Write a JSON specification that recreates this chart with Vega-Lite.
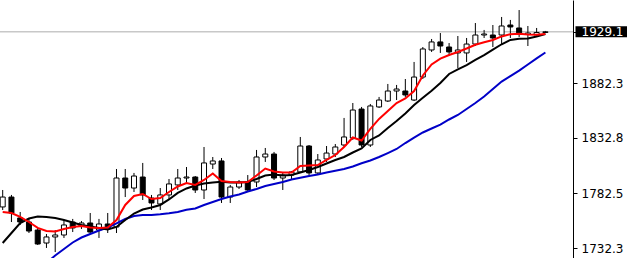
{
  "$schema": "https://vega.github.io/schema/vega-lite/v6.json",
  "width": 573,
  "height": 258,
  "autosize": {"type": "none"},
  "padding": {"left": 0, "top": 0, "right": 54, "bottom": 0},
  "background": "white",
  "config": {"view": {"stroke": null}},
  "datasets": {
    "price": [{"p": 1929.12}],
    "ohlc": [
      {"i":0,"o":1769.9,"h":1785.3,"l":1767.1,"c":1778.9,"r":1765.3,"k":1737.1,"b":null},
      {"i":1,"o":1778.9,"h":1780.8,"l":1756.2,"c":1764.4,"r":1764.4,"k":1746.2,"b":null},
      {"i":2,"o":1759.9,"h":1765.3,"l":1753.5,"c":1756.2,"r":1760.8,"k":1755.3,"b":null},
      {"i":3,"o":1756.2,"h":1759.9,"l":1746.2,"c":1748.0,"r":1756.2,"k":1759.4,"b":null},
      {"i":4,"o":1748.9,"h":1750.8,"l":1735.3,"c":1736.2,"r":1750.8,"k":1761.2,"b":null},
      {"i":5,"o":1737.1,"h":1745.3,"l":1732.6,"c":1742.6,"r":1748.0,"k":1760.8,"b":1718.9},
      {"i":6,"o":1742.6,"h":1748.9,"l":1728.9,"c":1744.4,"r":1747.6,"k":1759.9,"b":1725.8},
      {"i":7,"o":1744.4,"h":1758.0,"l":1741.7,"c":1753.5,"r":1749.9,"k":1758.0,"b":1731.7},
      {"i":8,"o":1756.2,"h":1759.0,"l":1747.1,"c":1750.8,"r":1751.7,"k":1755.8,"b":1737.6},
      {"i":9,"o":1752.6,"h":1757.1,"l":1749.9,"c":1755.3,"r":1752.6,"k":1753.5,"b":1742.1},
      {"i":10,"o":1755.3,"h":1764.4,"l":1745.3,"c":1747.1,"r":1751.2,"k":1752.1,"b":1745.3},
      {"i":11,"o":1748.9,"h":1759.0,"l":1741.7,"c":1754.4,"r":1750.8,"k":1750.8,"b":1748.5},
      {"i":12,"o":1754.4,"h":1764.4,"l":1746.2,"c":1750.8,"r":1751.2,"k":1749.4,"b":1751.2},
      {"i":13,"o":1751.7,"h":1804.4,"l":1746.2,"c":1796.2,"r":1758.0,"k":1751.7,"b":1754.9},
      {"i":14,"o":1796.2,"h":1804.4,"l":1778.9,"c":1787.1,"r":1771.7,"k":1758.0,"b":1758.9},
      {"i":15,"o":1787.1,"h":1800.8,"l":1783.5,"c":1798.0,"r":1779.9,"k":1763.9,"b":1761.7},
      {"i":16,"o":1797.1,"h":1809.9,"l":1776.2,"c":1780.8,"r":1781.7,"k":1767.6,"b":1762.6},
      {"i":17,"o":1778.0,"h":1780.8,"l":1767.1,"c":1773.5,"r":1777.1,"k":1769.4,"b":1762.6},
      {"i":18,"o":1772.6,"h":1787.1,"l":1767.1,"c":1780.8,"r":1778.0,"k":1771.7,"b":1763.2},
      {"i":19,"o":1780.8,"h":1795.3,"l":1776.2,"c":1790.8,"r":1783.5,"k":1776.7,"b":1764.1},
      {"i":20,"o":1789.9,"h":1804.4,"l":1785.3,"c":1796.2,"r":1788.5,"k":1782.6,"b":1765.3},
      {"i":21,"o":1796.2,"h":1806.2,"l":1791.7,"c":1797.1,"r":1791.7,"k":1786.7,"b":1767.3},
      {"i":22,"o":1797.1,"h":1798.0,"l":1782.6,"c":1785.3,"r":1789.9,"k":1789.4,"b":1768.5},
      {"i":23,"o":1785.3,"h":1824.4,"l":1777.1,"c":1809.9,"r":1794.4,"k":1791.2,"b":1771.7},
      {"i":24,"o":1808.9,"h":1815.3,"l":1804.4,"c":1811.7,"r":1800.3,"k":1792.1,"b":1774.4},
      {"i":25,"o":1811.7,"h":1814.4,"l":1773.5,"c":1778.9,"r":1793.5,"k":1792.8,"b":1777.1},
      {"i":26,"o":1778.9,"h":1789.9,"l":1773.5,"c":1788.0,"r":1792.6,"k":1792.1,"b":1779.4},
      {"i":27,"o":1788.0,"h":1794.4,"l":1786.2,"c":1792.6,"r":1792.1,"k":1792.1,"b":1781.2},
      {"i":28,"o":1792.6,"h":1798.9,"l":1784.4,"c":1785.3,"r":1792.6,"k":1792.6,"b":1783.9},
      {"i":29,"o":1792.6,"h":1821.7,"l":1788.0,"c":1815.3,"r":1798.5,"k":1795.3,"b":1786.2},
      {"i":30,"o":1815.3,"h":1823.5,"l":1810.8,"c":1818.0,"r":1804.8,"k":1798.5,"b":1788.9},
      {"i":31,"o":1818.0,"h":1819.9,"l":1794.4,"c":1796.2,"r":1802.1,"k":1799.4,"b":1790.8},
      {"i":32,"o":1796.2,"h":1800.8,"l":1785.3,"c":1798.9,"r":1801.2,"k":1798.5,"b":1792.6},
      {"i":33,"o":1798.9,"h":1802.6,"l":1794.4,"c":1801.7,"r":1801.2,"k":1798.9,"b":1794.8},
      {"i":34,"o":1801.7,"h":1833.5,"l":1800.8,"c":1825.3,"r":1807.1,"k":1801.2,"b":1796.4},
      {"i":35,"o":1825.3,"h":1826.2,"l":1798.9,"c":1800.8,"r":1807.6,"k":1803.5,"b":1798.0},
      {"i":36,"o":1800.8,"h":1818.0,"l":1798.9,"c":1812.6,"r":1808.0,"k":1806.2,"b":1799.4},
      {"i":37,"o":1813.5,"h":1825.3,"l":1810.8,"c":1818.9,"r":1812.6,"k":1809.4,"b":1801.2},
      {"i":38,"o":1818.0,"h":1827.1,"l":1815.3,"c":1824.4,"r":1817.1,"k":1812.6,"b":1802.8},
      {"i":39,"o":1826.2,"h":1850.8,"l":1824.4,"c":1833.5,"r":1824.4,"k":1815.3,"b":1804.4},
      {"i":40,"o":1832.6,"h":1864.4,"l":1830.8,"c":1858.0,"r":1833.0,"k":1819.4,"b":1806.7},
      {"i":41,"o":1858.9,"h":1860.8,"l":1824.4,"c":1826.2,"r":1830.3,"k":1823.0,"b":1809.6},
      {"i":42,"o":1826.2,"h":1863.5,"l":1824.4,"c":1861.7,"r":1840.8,"k":1830.8,"b":1812.1},
      {"i":43,"o":1860.8,"h":1869.9,"l":1859.9,"c":1867.1,"r":1849.9,"k":1834.9,"b":1815.3},
      {"i":44,"o":1866.2,"h":1881.7,"l":1865.3,"c":1875.3,"r":1857.1,"k":1841.7,"b":1818.9},
      {"i":45,"o":1875.3,"h":1880.8,"l":1867.1,"c":1877.1,"r":1864.4,"k":1848.0,"b":1822.6},
      {"i":46,"o":1875.3,"h":1886.2,"l":1869.9,"c":1871.7,"r":1868.5,"k":1854.9,"b":1828.0},
      {"i":47,"o":1867.1,"h":1901.7,"l":1866.2,"c":1888.0,"r":1875.3,"k":1862.6,"b":1833.0},
      {"i":48,"o":1888.0,"h":1915.3,"l":1886.2,"c":1913.5,"r":1889.4,"k":1869.2,"b":1837.6},
      {"i":49,"o":1912.6,"h":1922.6,"l":1910.8,"c":1919.9,"r":1899.4,"k":1875.6,"b":1841.2},
      {"i":50,"o":1919.9,"h":1928.0,"l":1909.9,"c":1916.2,"r":1904.8,"k":1882.6,"b":1844.8},
      {"i":51,"o":1915.3,"h":1918.9,"l":1907.1,"c":1910.8,"r":1908.0,"k":1890.8,"b":1849.4},
      {"i":52,"o":1909.9,"h":1925.3,"l":1896.2,"c":1912.6,"r":1910.8,"k":1894.9,"b":1853.5},
      {"i":53,"o":1909.9,"h":1923.5,"l":1901.7,"c":1918.0,"r":1913.9,"k":1898.9,"b":1858.9},
      {"i":54,"o":1918.0,"h":1937.1,"l":1916.2,"c":1926.2,"r":1917.3,"k":1903.5,"b":1864.4},
      {"i":55,"o":1926.2,"h":1930.8,"l":1923.5,"c":1927.1,"r":1919.6,"k":1908.0,"b":1870.3},
      {"i":56,"o":1926.2,"h":1935.3,"l":1915.3,"c":1923.5,"r":1921.7,"k":1912.9,"b":1877.1},
      {"i":57,"o":1926.2,"h":1942.6,"l":1917.1,"c":1934.4,"r":1924.9,"k":1917.8,"b":1883.9},
      {"i":58,"o":1935.3,"h":1939.9,"l":1923.5,"c":1933.5,"r":1926.9,"k":1921.7,"b":1888.9},
      {"i":59,"o":1932.6,"h":1948.9,"l":1924.4,"c":1927.1,"r":1927.3,"k":1922.9,"b":1893.9},
      {"i":60,"o":1926.7,"h":1934.4,"l":1916.2,"c":1928.0,"r":1926.7,"k":1923.1,"b":1899.4},
      {"i":61,"o":1926.2,"h":1932.6,"l":1924.4,"c":1928.5,"r":1926.4,"k":1924.9,"b":1905.0},
      {"i":62,"o":1928.5,"h":1929.9,"l":1928.0,"c":1929.1,"r":1927.1,"k":1927.1,"b":1910.3}
    ]
  },
  "layer": [
    {
      "data": {"name": "price"},
      "mark": {"type": "bar", "orient": "horizontal", "size": 11, "color": "black", "clip": false},
      "encoding": {
        "x": {"datum": 65.44, "type": "quantitative", "scale": {"domain": [-0.308, 65.155], "nice": false, "zero": false, "padding": 0}, "axis": null},
        "x2": {"datum": 72},
        "y": {"field": "p", "type": "quantitative", "scale": {"domain": [1723.48, 1958.03], "nice": false, "zero": false, "padding": 0},
          "axis": {"orient": "right", "values": [1732.3, 1782.5, 1832.8, 1882.3, 1929.1], "format": ".1f", "title": null, "grid": false, "tickSize": 4, "tickColor": "black", "domainColor": "black", "labelFont": "DejaVu Sans", "labelFontSize": 12, "labelPadding": 4, "labelOverlap": false, "labelFlush": false, "zindex": 1,
            "labelColor": {"condition": {"test": "datum.value == 1929.1", "value": "white"}, "value": "black"}}}
      }
    },
    {
      "data": {"name": "price"},
      "mark": {"type": "rule", "color": "#c8c8c8", "strokeWidth": 1.5},
      "encoding": {
        "y": {"field": "p", "type": "quantitative", "scale": {"domain": [1723.48, 1958.03], "nice": false, "zero": false, "padding": 0},
          "axis": {"orient": "right", "values": [1732.3, 1782.5, 1832.8, 1882.3, 1929.1], "format": ".1f", "title": null, "grid": false, "tickSize": 4, "tickColor": "black", "domainColor": "black", "labelFont": "DejaVu Sans", "labelFontSize": 12, "labelPadding": 4, "labelOverlap": false, "labelFlush": false, "zindex": 1,
            "labelColor": {"condition": {"test": "datum.value == 1929.1", "value": "white"}, "value": "black"}}}
      }
    },
    {
      "data": {"name": "ohlc"},
      "mark": {"type": "rule", "color": "black", "strokeWidth": 1, "clip": true},
      "encoding": {
        "x": {"field": "i", "type": "quantitative", "scale": {"domain": [-0.308, 65.155], "nice": false, "zero": false, "padding": 0}, "axis": null},
        "y": {"field": "h", "type": "quantitative", "scale": {"domain": [1723.48, 1958.03], "nice": false, "zero": false, "padding": 0},
          "axis": {"orient": "right", "values": [1732.3, 1782.5, 1832.8, 1882.3, 1929.1], "format": ".1f", "title": null, "grid": false, "tickSize": 4, "tickColor": "black", "domainColor": "black", "labelFont": "DejaVu Sans", "labelFontSize": 12, "labelPadding": 4, "labelOverlap": false, "labelFlush": false, "zindex": 1,
            "labelColor": {"condition": {"test": "datum.value == 1929.1", "value": "white"}, "value": "black"}}},
        "y2": {"field": "l"}
      }
    },
    {
      "data": {"name": "ohlc"},
      "mark": {"type": "bar", "size": 5, "stroke": "black", "strokeWidth": 1, "clip": true},
      "encoding": {
        "x": {"field": "i", "type": "quantitative", "scale": {"domain": [-0.308, 65.155], "nice": false, "zero": false, "padding": 0}, "axis": null},
        "y": {"field": "o", "type": "quantitative", "scale": {"domain": [1723.48, 1958.03], "nice": false, "zero": false, "padding": 0},
          "axis": {"orient": "right", "values": [1732.3, 1782.5, 1832.8, 1882.3, 1929.1], "format": ".1f", "title": null, "grid": false, "tickSize": 4, "tickColor": "black", "domainColor": "black", "labelFont": "DejaVu Sans", "labelFontSize": 12, "labelPadding": 4, "labelOverlap": false, "labelFlush": false, "zindex": 1,
            "labelColor": {"condition": {"test": "datum.value == 1929.1", "value": "white"}, "value": "black"}}},
        "y2": {"field": "c"},
        "fill": {"condition": {"test": "datum.c < datum.o", "value": "black"}, "value": "white"}
      }
    },
    {
      "data": {"name": "ohlc"},
      "mark": {"type": "line", "color": "#0000c8", "strokeWidth": 2, "clip": true},
      "encoding": {
        "x": {"field": "i", "type": "quantitative", "scale": {"domain": [-0.308, 65.155], "nice": false, "zero": false, "padding": 0}, "axis": null},
        "y": {"field": "b", "type": "quantitative", "scale": {"domain": [1723.48, 1958.03], "nice": false, "zero": false, "padding": 0},
          "axis": {"orient": "right", "values": [1732.3, 1782.5, 1832.8, 1882.3, 1929.1], "format": ".1f", "title": null, "grid": false, "tickSize": 4, "tickColor": "black", "domainColor": "black", "labelFont": "DejaVu Sans", "labelFontSize": 12, "labelPadding": 4, "labelOverlap": false, "labelFlush": false, "zindex": 1,
            "labelColor": {"condition": {"test": "datum.value == 1929.1", "value": "white"}, "value": "black"}}}
      }
    },
    {
      "data": {"name": "ohlc"},
      "mark": {"type": "line", "color": "black", "strokeWidth": 2, "clip": true},
      "encoding": {
        "x": {"field": "i", "type": "quantitative", "scale": {"domain": [-0.308, 65.155], "nice": false, "zero": false, "padding": 0}, "axis": null},
        "y": {"field": "k", "type": "quantitative", "scale": {"domain": [1723.48, 1958.03], "nice": false, "zero": false, "padding": 0},
          "axis": {"orient": "right", "values": [1732.3, 1782.5, 1832.8, 1882.3, 1929.1], "format": ".1f", "title": null, "grid": false, "tickSize": 4, "tickColor": "black", "domainColor": "black", "labelFont": "DejaVu Sans", "labelFontSize": 12, "labelPadding": 4, "labelOverlap": false, "labelFlush": false, "zindex": 1,
            "labelColor": {"condition": {"test": "datum.value == 1929.1", "value": "white"}, "value": "black"}}}
      }
    },
    {
      "data": {"name": "ohlc"},
      "mark": {"type": "line", "color": "#ff0000", "strokeWidth": 2, "clip": true},
      "encoding": {
        "x": {"field": "i", "type": "quantitative", "scale": {"domain": [-0.308, 65.155], "nice": false, "zero": false, "padding": 0}, "axis": null},
        "y": {"field": "r", "type": "quantitative", "scale": {"domain": [1723.48, 1958.03], "nice": false, "zero": false, "padding": 0},
          "axis": {"orient": "right", "values": [1732.3, 1782.5, 1832.8, 1882.3, 1929.1], "format": ".1f", "title": null, "grid": false, "tickSize": 4, "tickColor": "black", "domainColor": "black", "labelFont": "DejaVu Sans", "labelFontSize": 12, "labelPadding": 4, "labelOverlap": false, "labelFlush": false, "zindex": 1,
            "labelColor": {"condition": {"test": "datum.value == 1929.1", "value": "white"}, "value": "black"}}}
      }
    }
  ]
}
